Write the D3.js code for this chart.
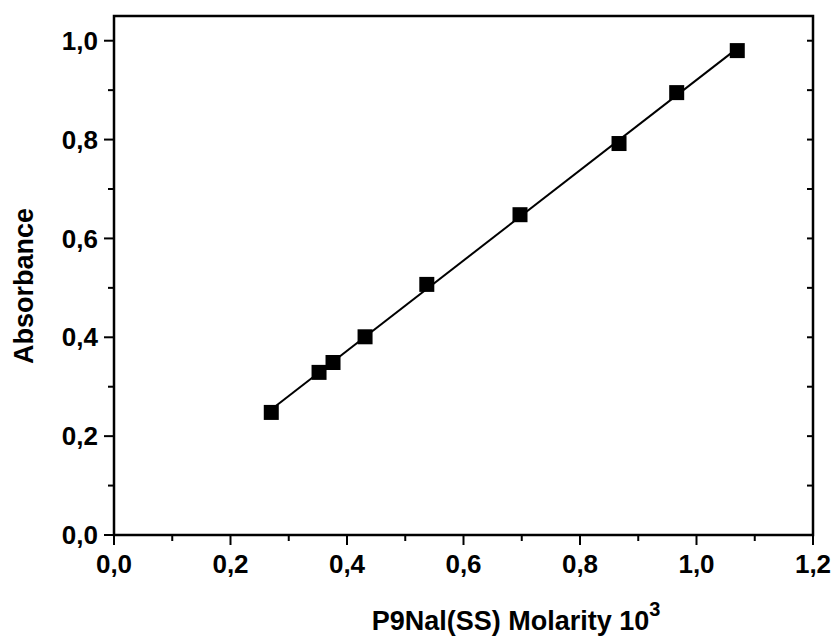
<!DOCTYPE html>
<html>
<head>
<meta charset="utf-8">
<script src="https://cdn.jsdelivr.net/npm/d3@7"></script>
<style>
  body { margin: 0; background: #fff; }
  text { font-family: "Liberation Sans", Arial, sans-serif; font-weight: bold; fill: #000; }
</style>
</head>
<body>
<svg id="chart" width="835" height="637"></svg>
<script>
// Absorbance vs molarity
const molarity = [0.270, 0.352, 0.376, 0.431, 0.537, 0.697, 0.867, 0.966, 1.070];
const absorbance = [0.248, 0.329, 0.349, 0.401, 0.507, 0.648, 0.792, 0.895, 0.980];
const xTicks = [0, 0.2, 0.4, 0.6, 0.8, 1.0, 1.2];
const yTicks = [0, 0.2, 0.4, 0.6, 0.8, 1.0];

const svg = d3.select("#chart");
const margin = { top: 16, right: 22, bottom: 102, left: 114 };
const width = 835 - margin.left - margin.right;
const height = 637 - margin.top - margin.bottom;

const g = svg.append("g").attr("transform", `translate(${margin.left}, ${margin.top})`);

const x = d3.scaleLinear().domain([0, 1.2]).range([0, width]);
const y = d3.scaleLinear().domain([0, 1.05]).range([height, 0]);

const comma = d => d3.format(".1f")(d).replace(".", ",");

// minor ticks every 0.1
const xMinor = d3.range(0.1, 1.2, 0.2);
const yMinor = d3.range(0.1, 1.05, 0.2);

// bottom axis
g.append("g").selectAll("line.xmaj").data(xTicks).enter().append("line")
    .attr("x1", d => x(d)).attr("x2", d => x(d))
    .attr("y1", height).attr("y2", height + 10)
    .attr("stroke", "#000").attr("stroke-width", 2);
g.append("g").selectAll("line.xmin").data(xMinor).enter().append("line")
    .attr("x1", d => x(d)).attr("x2", d => x(d))
    .attr("y1", height).attr("y2", height + 6)
    .attr("stroke", "#000").attr("stroke-width", 2);
g.append("g").selectAll("text").data(xTicks).enter().append("text")
    .attr("x", d => x(d)).attr("y", height + 38)
    .attr("text-anchor", "middle")
    .style("font-size", "26px")
    .text(comma);

// left axis
g.append("g").selectAll("line.ymaj").data(yTicks).enter().append("line")
    .attr("x1", -10).attr("x2", 0)
    .attr("y1", d => y(d)).attr("y2", d => y(d))
    .attr("stroke", "#000").attr("stroke-width", 2);
g.append("g").selectAll("line.ymin").data(yMinor).enter().append("line")
    .attr("x1", -6).attr("x2", 0)
    .attr("y1", d => y(d)).attr("y2", d => y(d))
    .attr("stroke", "#000").attr("stroke-width", 2);
g.append("g").selectAll("text").data(yTicks).enter().append("text")
    .attr("x", -16).attr("y", d => y(d))
    .attr("dy", "0.35em")
    .attr("text-anchor", "end")
    .style("font-size", "26px")
    .text(comma);

// right axis, ticks pointing inward
g.append("g").selectAll("line").data(yTicks.concat(yMinor)).enter().append("line")
    .attr("x1", width - 6).attr("x2", width)
    .attr("y1", d => y(d)).attr("y2", d => y(d))
    .attr("stroke", "#000").attr("stroke-width", 2);

// frame
g.append("rect")
    .attr("width", width).attr("height", height)
    .attr("fill", "none").attr("stroke", "#000").attr("stroke-width", 2.5);

// linear fit line
const mx = d3.mean(molarity), my = d3.mean(absorbance);
const slope = d3.sum(molarity, (d, i) => (d - mx) * (absorbance[i] - my)) /
              d3.sum(molarity, d => (d - mx) * (d - mx));
const intercept = my - slope * mx;
const xEnds = d3.extent(molarity);
g.append("path")
    .datum(xEnds)
    .attr("fill", "none").attr("stroke", "#000").attr("stroke-width", 2)
    .attr("d", d3.line().x(d => x(d)).y(d => y(intercept + slope * d)));

// square markers
const size = 15;
g.append("g").selectAll("rect").data(molarity).enter().append("rect")
    .attr("x", d => x(d) - size / 2)
    .attr("y", (d, i) => y(absorbance[i]) - size / 2)
    .attr("width", size).attr("height", size)
    .attr("fill", "#000");

// axis titles
const xt = svg.append("text")
    .attr("x", 516).attr("y", 630)
    .attr("text-anchor", "middle")
    .style("font-size", "27px");
xt.append("tspan").text("P9Nal(SS) Molarity 10");
xt.append("tspan").attr("dy", -14).style("font-size", "20px").text("3");

svg.append("text")
    .attr("transform", "translate(33, 286) rotate(-90)")
    .attr("text-anchor", "middle")
    .style("font-size", "27px")
    .text("Absorbance");
</script>
</body>
</html>
